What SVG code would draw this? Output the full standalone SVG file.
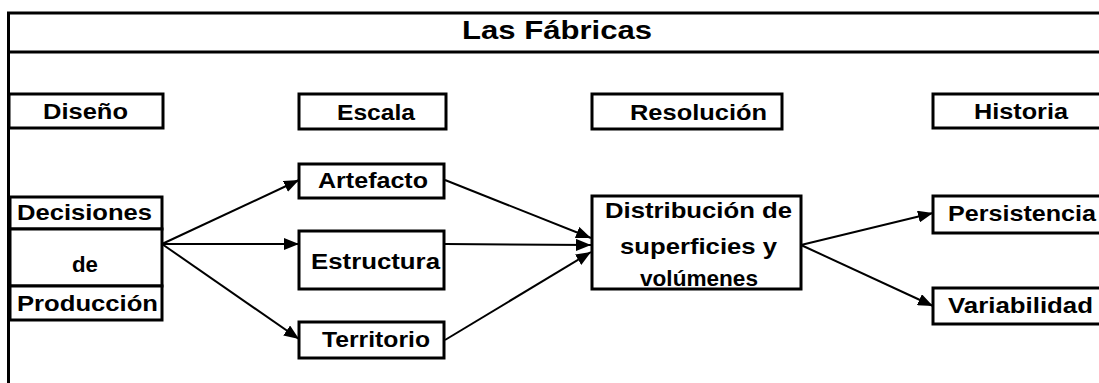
<svg xmlns="http://www.w3.org/2000/svg" width="1099" height="383" viewBox="0 0 1099 383">
<defs>
<style>
.box{fill:#fff;stroke:#000;stroke-width:3}
.frame{fill:none;stroke:#000;stroke-width:3}
.t{font-family:"Liberation Sans",Arial,sans-serif;font-weight:bold;font-size:22px;fill:#000}
.title{font-size:25px}
.conn line{stroke:#000;stroke-width:2;marker-end:url(#arr)}
</style>
<marker id="arr" markerUnits="userSpaceOnUse" markerWidth="16" markerHeight="12" refX="15" refY="6" orient="auto">
<path d="M0,0 L15,6 L0,12 Z" fill="#000"/>
</marker>
</defs>
<rect width="1099" height="383" fill="#fff"/>
<g id="frame">
<line class="frame" x1="8.5" y1="12" x2="8.5" y2="383"/>
<line class="frame" x1="7" y1="13" x2="1099" y2="13"/>
<line class="frame" x1="7" y1="52" x2="1099" y2="52"/>
<text class="t title" x="462" y="39" textLength="190" lengthAdjust="spacingAndGlyphs">Las Fábricas</text>
</g>
<g id="diseno"><rect class="box" x="9" y="94" width="154" height="34"/><text class="t" x="43" y="119" textLength="85" lengthAdjust="spacingAndGlyphs">Diseño</text></g>
<g id="escala"><rect class="box" x="299" y="94" width="147" height="35"/><text class="t" x="337" y="120" textLength="78" lengthAdjust="spacingAndGlyphs">Escala</text></g>
<g id="resolucion"><rect class="box" x="592" y="94" width="190" height="35"/><text class="t" x="630" y="120" textLength="137" lengthAdjust="spacingAndGlyphs">Resolución</text></g>
<g id="historia"><rect class="box" x="933" y="94" width="170" height="34"/><text class="t" x="974" y="119" textLength="94" lengthAdjust="spacingAndGlyphs">Historia</text></g>
<g id="decisiones">
<rect class="box" x="10" y="197" width="152" height="32"/>
<rect class="box" x="10" y="229" width="152" height="57"/>
<rect class="box" x="10" y="286" width="152" height="34"/>
<text class="t" x="17" y="220" textLength="135" lengthAdjust="spacingAndGlyphs">Decisiones</text>
<text class="t" x="72" y="272" textLength="26" lengthAdjust="spacingAndGlyphs">de</text>
<text class="t" x="17" y="311" textLength="141" lengthAdjust="spacingAndGlyphs">Producción</text>
</g>
<g id="artefacto"><rect class="box" x="299" y="164" width="145" height="34"/><text class="t" x="318" y="188" textLength="110" lengthAdjust="spacingAndGlyphs">Artefacto</text></g>
<g id="estructura"><rect class="box" x="299" y="231" width="145" height="58"/><text class="t" x="311" y="269" textLength="129" lengthAdjust="spacingAndGlyphs">Estructura</text></g>
<g id="territorio"><rect class="box" x="299" y="322" width="145" height="36"/><text class="t" x="322" y="347" textLength="108" lengthAdjust="spacingAndGlyphs">Territorio</text></g>
<g id="distribucion">
<rect class="box" x="592" y="196" width="209" height="93"/>
<text class="t" x="605" y="218" textLength="187" lengthAdjust="spacingAndGlyphs">Distribución de</text>
<text class="t" x="620" y="254" textLength="157" lengthAdjust="spacingAndGlyphs">superficies y</text>
<text class="t" x="640" y="286" textLength="118" lengthAdjust="spacingAndGlyphs">volúmenes</text>
</g>
<g id="persistencia"><rect class="box" x="933" y="196" width="170" height="37"/><text class="t" x="948" y="221" textLength="148" lengthAdjust="spacingAndGlyphs">Persistencia</text></g>
<g id="variabilidad"><rect class="box" x="933" y="288" width="170" height="36"/><text class="t" x="948" y="313" textLength="145" lengthAdjust="spacingAndGlyphs">Variabilidad</text></g>
<g id="connectors" class="conn">
<line x1="162" y1="244" x2="299" y2="180"/>
<line x1="162" y1="244" x2="299" y2="244"/>
<line x1="162" y1="244" x2="299" y2="339"/>
<line x1="445" y1="180" x2="591" y2="238"/>
<line x1="445" y1="244" x2="591" y2="245"/>
<line x1="445" y1="340" x2="591" y2="252"/>
<line x1="801" y1="245" x2="933" y2="213"/>
<line x1="801" y1="245" x2="933" y2="306"/>
</g>
</svg>
